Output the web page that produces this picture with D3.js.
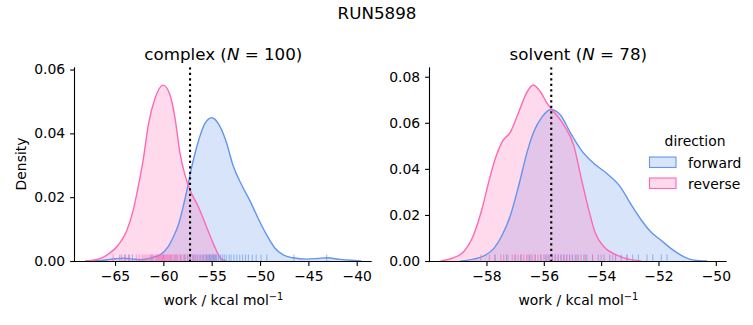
<!DOCTYPE html>
<html><head><meta charset="utf-8">
<script src="https://cdn.jsdelivr.net/npm/d3@7"></script>
<style>body{margin:0;background:#fff}svg{font-family:"DejaVu Sans",sans-serif}</style>
</head><body>
<svg id="c" width="753" height="325"></svg>
<script>
const suptitle = "RUN5898";
const directions = ["forward", "reverse"];
const colors = {forward: "#6495ED", reverse: "#FF69B4"};

// complex panel: KDE curves [work, density]
const complexForward = [[-67.2,0],[-66.0,0.0003],[-65.0,0.0007],[-64.1,0.0009],[-63.2,0.0006],[-62.4,0.0004],[-61.6,0.0007],[-61.0,0.0012],[-60.3,0.002],[-59.5,0.0045],[-58.9,0.008],[-58.45,0.0113],[-57.6,0.0217],[-57.1,0.029],[-56.4,0.0373],[-55.7,0.0431],[-55.0,0.0449],[-54.3,0.043],[-53.5,0.0374],[-52.8,0.030],[-51.9,0.0238],[-51.0,0.0186],[-50.2,0.0134],[-49.3,0.0081],[-48.45,0.004],[-47.6,0.0019],[-46.6,0.001],[-45.2,0.0006],[-44.0,0.0008],[-43.1,0.001],[-41.7,0.0005],[-40.0,0.0001],[-39.5,0]];
const complexReverse = [[-68.1,0],[-67.0,0.0004],[-66.2,0.0012],[-65.69,0.0022],[-64.66,0.005],[-63.79,0.0095],[-63.11,0.016],[-62.59,0.0235],[-62.07,0.032],[-61.56,0.0426],[-60.86,0.051],[-60.03,0.0551],[-59.31,0.052],[-58.79,0.0447],[-58.28,0.0338],[-57.76,0.0269],[-57.24,0.0222],[-56.38,0.017],[-55.51,0.0105],[-54.7,0.0045],[-54.0,0.0006],[-53.5,0]];
const complexForwardRug = [-64.5,-64.0,-63.6,-63.2,-61.2,-60.0,-59.2,-58.7,-58.2,-57.8,-57.5,-57.2,-56.9,-56.7,-56.5,-56.3,-56.1,-55.9,-55.8,-55.6,-55.5,-55.4,-55.3,-55.2,-55.1,-55.0,-54.9,-54.8,-54.7,-54.6,-54.5,-54.3,-54.1,-53.9,-53.7,-53.5,-53.2,-53.0,-52.7,-52.4,-52.1,-51.8,-51.5,-51.2,-50.8,-50.4,-49.9,-49.3,-46.5,-43.1];
const complexReverseRug = [-65.2,-64.3,-63.9,-63.5,-62.8,-62.5,-62.2,-62.0,-61.8,-61.6,-61.4,-61.3,-61.1,-61.0,-60.8,-60.7,-60.6,-60.5,-60.4,-60.3,-60.2,-60.1,-60.0,-59.9,-59.8,-59.7,-59.6,-59.5,-59.4,-59.3,-59.2,-59.0,-58.9,-58.8,-58.6,-58.5,-58.3,-58.1,-57.9,-57.7,-57.5,-57.3,-57.0,-56.8,-56.5,-56.2,-55.9,-55.6,-55.2,-54.8];
const complexMark = -57.24;
const complexTicksX = [-65,-60,-55,-50,-45,-40];
const complexTicksY = [0,0.02,0.04,0.06];

// solvent panel
const solventForward = [[-58.9,0],[-58.45,0.0008],[-58.09,0.0022],[-57.74,0.0055],[-57.45,0.0113],[-57.16,0.020],[-56.87,0.033],[-56.58,0.0474],[-56.35,0.0561],[-56.06,0.0626],[-55.75,0.0658],[-55.42,0.0634],[-55.07,0.0556],[-54.72,0.0486],[-54.26,0.0424],[-53.8,0.038],[-53.33,0.0322],[-52.98,0.025],[-52.6,0.0178],[-52.27,0.0127],[-51.92,0.0091],[-51.57,0.0055],[-51.22,0.0026],[-50.76,0.0004],[-50.3,0]];
const solventReverse = [[-59.6,0],[-59.2,0.0012],[-58.8,0.004],[-58.45,0.0113],[-58.15,0.0229],[-57.92,0.0344],[-57.69,0.0446],[-57.45,0.0518],[-57.16,0.0561],[-56.87,0.0648],[-56.58,0.0735],[-56.37,0.0764],[-56.12,0.0735],[-55.88,0.0684],[-55.65,0.0648],[-55.3,0.059],[-54.95,0.050],[-54.7,0.0362],[-54.43,0.0221],[-54.2,0.012],[-53.9,0.0062],[-53.45,0.0026],[-53.0,0.0007],[-52.6,0]];
const solventForwardRug = [-57.7,-57.3,-57.0,-56.8,-56.5,-56.3,-56.1,-55.95,-55.85,-55.7,-55.6,-55.5,-55.4,-55.3,-55.2,-55.1,-55.0,-54.9,-54.8,-54.6,-54.5,-54.3,-54.1,-53.9,-53.7,-53.5,-53.3,-53.1,-52.9,-52.7,-52.4,-52.2,-51.9,-51.7];
const solventReverseRug = [-58.2,-57.9,-57.7,-57.5,-57.4,-57.25,-57.1,-57.0,-56.9,-56.8,-56.7,-56.6,-56.55,-56.45,-56.4,-56.3,-56.2,-56.1,-56.0,-55.9,-55.8,-55.7,-55.6,-55.5,-55.4,-55.3,-55.2,-55.1,-55.0,-54.85,-54.7,-54.55,-54.3,-54.0,-53.6,-53.1];
const solventMark = -55.74;
const solventTicksX = [-58,-56,-54,-52,-50];
const solventTicksY = [0,0.02,0.04,0.06,0.08];

const panels = [
  {name:"complex", n:100, left:75, right:371.7, xdom:[-69.14,-38.45], ydom:[0,0.0607],
   kde:{forward:complexForward, reverse:complexReverse}, rug:{forward:complexForwardRug, reverse:complexReverseRug},
   mark:complexMark, tx:complexTicksX, ty:complexTicksY},
  {name:"solvent", n:78, left:430, right:726.7, xdom:[-59.97,-49.62], ydom:[0,0.0841],
   kde:{forward:solventForward, reverse:solventReverse}, rug:{forward:solventForwardRug, reverse:solventReverseRug},
   mark:solventMark, tx:solventTicksX, ty:solventTicksY}
];
const yTop = 67.3, yBottom = 261;
const FS = 13.9, FT = 16.7;
const svg = d3.select("#c");

svg.append("text").attr("x",377).attr("y",19).attr("text-anchor","middle").attr("font-size",FT).text(suptitle);

panels.forEach((p,i)=>{
  const x = d3.scaleLinear().domain(p.xdom).range([p.left,p.right]);
  const y = d3.scaleLinear().domain(p.ydom).range([yBottom,yTop]);
  const g = svg.append("g");
  const clip = "clip"+i;
  svg.append("clipPath").attr("id",clip).append("rect").attr("x",p.left).attr("y",yTop).attr("width",p.right-p.left).attr("height",yBottom-yTop);
  const pg = g.append("g").attr("clip-path",`url(#${clip})`);
  const area = d3.area().x(d=>x(d[0])).y0(y(0)).y1(d=>y(d[1])).curve(d3.curveMonotoneX);
  const line = d3.line().x(d=>x(d[0])).y(d=>y(d[1])).curve(d3.curveMonotoneX);
  directions.forEach(dir=>{
    pg.append("path").datum(p.kde[dir]).attr("d",area).attr("fill",colors[dir]).attr("fill-opacity",0.25);
  });
  directions.forEach(dir=>{
    pg.append("path").datum(p.kde[dir]).attr("d",line).attr("fill","none").attr("stroke",colors[dir]).attr("stroke-width",1.4);
  });
  directions.forEach(dir=>{
    pg.selectAll(null).data(p.rug[dir]).enter().append("line")
      .attr("x1",d=>x(d)).attr("x2",d=>x(d)).attr("y1",yBottom).attr("y2",yBottom-6.5)
      .attr("stroke",colors[dir]).attr("stroke-opacity",0.6).attr("stroke-width",1.1);
  });
  pg.append("line").attr("x1",x(p.mark)).attr("x2",x(p.mark)).attr("y1",yTop).attr("y2",yBottom)
    .attr("stroke","#000").attr("stroke-width",2.1).attr("stroke-dasharray","2.1,3.4");

  const xa = g.append("g").attr("transform",`translate(0,${yBottom})`)
    .call(d3.axisBottom(x).tickValues(p.tx).tickSize(4.9).tickPadding(4.9).tickFormat(d=>d3.format("d")(d).replace("-","\u2212")));
  xa.select(".domain").attr("d",`M${p.left},0.5H${p.right}`).attr("stroke","#000").attr("stroke-width",1.1);
  const ya = g.append("g").attr("transform",`translate(${p.left},0)`)
    .call(d3.axisLeft(y).tickValues(p.ty).tickSize(4.9).tickPadding(4.9).tickFormat(d3.format(".2f")));
  ya.select(".domain").attr("d",`M-0.5,${yTop}V${yBottom}`).attr("stroke","#000").attr("stroke-width",1.1);
  g.selectAll(".tick text").attr("font-size",FS).attr("fill","#000").attr("font-family","DejaVu Sans");
  g.selectAll(".tick line").attr("stroke","#000").attr("stroke-width",1.1);

  const cx = (p.left+p.right)/2;
  const t = svg.append("text").attr("x",cx).attr("y",60).attr("text-anchor","middle").attr("font-size",FT);
  t.append("tspan").text(p.name+" (");
  t.append("tspan").attr("font-style","italic").text("N");
  t.append("tspan").text(" = "+p.n+")");

  const xl = svg.append("text").attr("x",cx).attr("y",305).attr("text-anchor","middle").attr("font-size",FS);
  xl.append("tspan").text("work / kcal mol");
  xl.append("tspan").attr("dy",-5.5).attr("font-size",9.8).text("\u22121");
});

svg.append("text").attr("transform","translate(26,164) rotate(-90)").attr("text-anchor","middle").attr("font-size",FS).text("Density");

// legend
const lg = svg.append("g");
lg.append("text").attr("x",695).attr("y",146).attr("text-anchor","middle").attr("font-size",FS).text("direction");
directions.forEach((dir,k)=>{
  const yy = 157 + k*21;
  lg.append("rect").attr("x",649.5).attr("y",yy).attr("width",26.5).attr("height",10.5)
    .attr("fill",colors[dir]).attr("fill-opacity",0.25).attr("stroke",colors[dir]).attr("stroke-width",1.1);
  lg.append("text").attr("x",688).attr("y",yy+10.5).attr("font-size",FS).text(dir);
});
</script>
</body></html>
